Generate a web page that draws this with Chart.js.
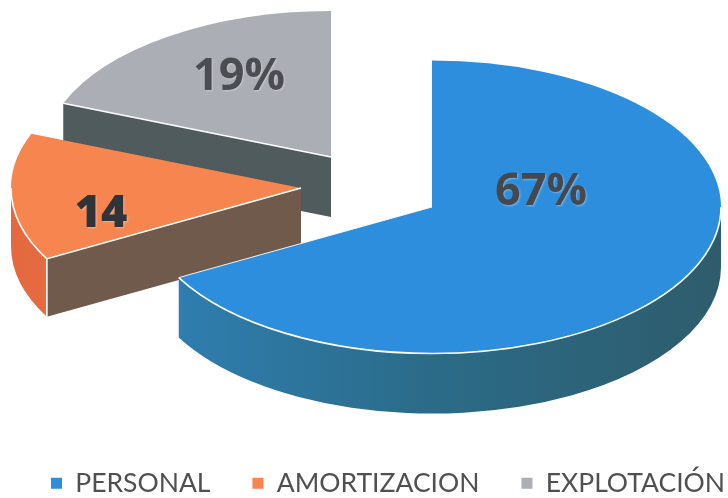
<!DOCTYPE html>
<html>
<head>
<meta charset="utf-8">
<style>html,body{margin:0;padding:0;background:#fff}canvas{display:block}</style>
<script src="https://cdn.jsdelivr.net/npm/chart.js@4"></script>
</head>
<body>
<canvas id="c" width="728" height="498"></canvas>
<script>
const categories = ['PERSONAL', 'AMORTIZACION', 'EXPLOTACIÓN'];
const shares = [67, 14, 19];
const sliceLabels = ['67%', '14', '19%'];
const topColors = ['#2E8EDE', '#F68550', '#ACAEB6'];
const cutColors = ['#2E7DAE', '#6F5A4C', '#4F5B5D'];
const wallStops = [['#2F80B4', '#2B6B88', '#2E5C6C'], ['#E5683F', '#F07F4C', '#F07F4C'], ['#555', '#555', '#555']];
// where each exploded slice's apex sits on the page, and drawing constants
const apexX = [432, 301, 331];
const apexY = [207, 188, 157];
const depths = [60, 58, 60];
const radii = [289, 290, 288];
const labelX = [541, 101, 239];
const labelY = [192, 214, 77];
const labelWeights = [700, 800, 700];
const labelColors = ['#45494E', '#2F3438', '#4A4D52'];
const squash = 0.507;
const radiusPx = 288;
const legendLeft = 9;
const legendTop = 428;

function visibleRange(a0, a1) {
  const out = [];
  for (const k of [-1, 0, 1]) {
    const lo = Math.max(a0, k * 2 * Math.PI), hi = Math.min(a1, k * 2 * Math.PI + Math.PI);
    if (hi > lo) out.push([lo, hi]);
  }
  return out;
}

const pie3d = {
  id: 'pie3d',
  afterLayout(chart) {
    chart.legend.left = legendLeft;
    chart.legend.top = legendTop;
  },
  beforeDatasetsDraw(chart) {
    const ctx = chart.ctx;
    const arcs = chart.getDatasetMeta(0).data;
    for (let i = arcs.length - 1; i >= 0; i--) {
      const arc = arcs[i];
      const p = arc.getProps(['x', 'y', 'startAngle', 'endAngle', 'outerRadius'], true);
      const ax = apexX[i], ay = apexY[i], d = depths[i], r = radii[i], ry = r * squash;
      const k = r / p.outerRadius;
      const px = a => ax + Math.cos(a) * r, py = a => ay + Math.sin(a) * ry;
      ctx.save();
      // outer wall
      const ranges = visibleRange(p.startAngle, p.endAngle);
      for (const [t0, t1] of ranges) {
        const g = ctx.createLinearGradient(ax - r, 0, ax + r, 0);
        wallStops[i].forEach((c, n) => g.addColorStop(n / 2, c));
        ctx.beginPath();
        ctx.ellipse(ax, ay, r, ry, 0, t0, t1);
        ctx.ellipse(ax, ay + d, r, ry, 0, t1, t0, true);
        ctx.closePath();
        ctx.fillStyle = g;
        ctx.fill();
      }
      // cut face below the starting edge
      const s = p.startAngle;
      ctx.beginPath();
      ctx.moveTo(ax, ay); ctx.lineTo(px(s), py(s));
      ctx.lineTo(px(s), py(s) + d); ctx.lineTo(ax, ay + d);
      ctx.closePath();
      ctx.fillStyle = cutColors[i];
      ctx.fill();
      // top face, drawn by the library's arc element
      ctx.save();
      ctx.translate(ax, ay);
      ctx.scale(k, k * squash);
      ctx.translate(-p.x, -p.y);
      arc.draw(ctx);
      ctx.restore();
      // thin highlights along the front edges
      ctx.strokeStyle = '#fff';
      ctx.lineWidth = 1.6;
      for (const [t0, t1] of ranges) {
        ctx.beginPath();
        ctx.ellipse(ax, ay, r, ry, 0, t0, t1);
        ctx.stroke();
      }
      ctx.beginPath();
      if (i === 0) {
        ctx.lineWidth = 0.9;
        ctx.moveTo(ax, ay); ctx.lineTo(px(p.endAngle), py(p.endAngle));
      } else {
        ctx.moveTo(ax, ay); ctx.lineTo(px(s), py(s));
        if (i === 1) ctx.lineTo(px(s), py(s) + d);
      }
      ctx.stroke();
      ctx.restore();
    }
    ctx.save();
    ctx.textAlign = 'center';
    ctx.textBaseline = 'middle';
    arcs.forEach((arc, i) => {
      ctx.font = labelWeights[i] + ' 45px "Open Sans", sans-serif';
      ctx.shadowColor = 'rgba(255,255,255,0.35)';
      ctx.shadowBlur = 2;
      ctx.shadowOffsetX = 1;
      ctx.shadowOffsetY = 1;
      ctx.fillStyle = labelColors[i];
      ctx.fillText(sliceLabels[i], labelX[i], labelY[i]);
    });
    ctx.restore();
    return false;
  }
};

new Chart(document.getElementById('c'), {
  type: 'pie',
  data: {
    labels: categories,
    datasets: [{ data: shares, backgroundColor: topColors, borderWidth: 0 }]
  },
  options: {
    responsive: false,
    animation: false,
    radius: radiusPx,
    layout: { padding: { right: -100 } },
    plugins: {
      tooltip: { enabled: false },
      legend: {
        position: 'bottom',
        align: 'start',
        labels: {
          boxWidth: 11, boxHeight: 11, padding: 42,
          color: '#505050',
          font: { family: 'Lato', size: 26.5 }
        }
      }
    }
  },
  plugins: [pie3d]
});
</script>
</body>
</html>
